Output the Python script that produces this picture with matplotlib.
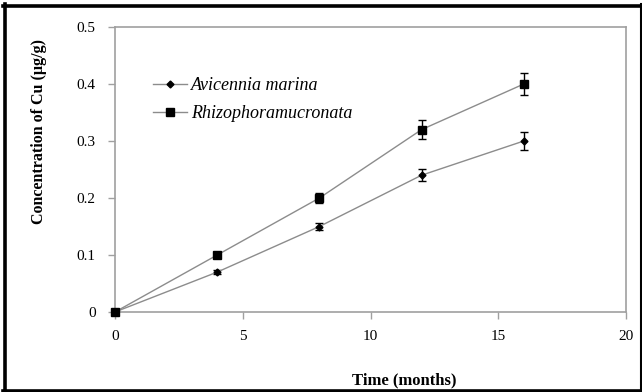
import matplotlib
matplotlib.use("Agg")
import matplotlib.pyplot as plt
from matplotlib.lines import Line2D

months = [0, 4, 8, 12, 16]
avicennia = [0.0, 0.07, 0.15, 0.24, 0.30]
avicennia_err = [0.0, 0.003, 0.006, 0.011, 0.015]
rhizophora = [0.0, 0.10, 0.20, 0.32, 0.40]
rhizophora_err = [0.0, 0.004, 0.009, 0.017, 0.02]
series_names = ["Avicennia marina", "Rhizophoramucronata"]
x_ticks = [0, 5, 10, 15, 20]
y_ticks = [0, 0.1, 0.2, 0.3, 0.4, 0.5]
y_tick_labels = ["0", "0.1", "0.2", "0.3", "0.4", "0.5"]

plt.rcParams['font.family'] = ['Liberation Serif', 'DejaVu Serif']

W, H = 642, 392
fig = plt.figure(figsize=(W / 100, H / 100), dpi=100)
ax = fig.add_axes([115 / W, 1 - 312 / H, (626 - 115) / W, (312 - 27) / H])

gray = '#8c8c8c'
c1 = ax.errorbar(months, avicennia, yerr=avicennia_err, color=gray, lw=1.0,
                 marker='D', ms=3.5, mfc='black', mec='black',
                 ecolor='black', elinewidth=1.0, capsize=3, capthick=1.0, zorder=3)
c2 = ax.errorbar(months, rhizophora, yerr=rhizophora_err, color=gray, lw=1.0,
                 marker='s', ms=6, mfc='black', mec='black',
                 ecolor='black', elinewidth=1.0, capsize=3, capthick=1.0, zorder=3)
for c in (c1, c2):
    c[0].set_clip_on(False)

ax.set_xlim(0, 20)
ax.set_ylim(0, 0.5)
ax.set_xticks(x_ticks)
ax.set_yticks(y_ticks)
ax.set_yticklabels(y_tick_labels)
for s in ax.spines.values():
    s.set_color('#a0a0a0')
    s.set_linewidth(1.2)
ax.tick_params(axis='both', direction='out', length=5, width=1.0, color='#a0a0a0',
               labelsize=11, labelcolor='black')
ax.tick_params(axis='x', pad=8)
ax.tick_params(axis='y', pad=9)

fig.text(404 / W, 1 - 380 / H, "Time (months)", fontsize=12, fontweight='bold',
         ha='center', va='center')
fig.text(39 / W, 1 - 131 / H, "Concentration of Cu (\u00b5g/g)", fontsize=11.5,
         fontweight='bold', rotation=90, ha='center', va='center')

handles = [
    Line2D([], [], color=gray, lw=1.0, marker='D', ms=3.5, mfc='black', mec='black'),
    Line2D([], [], color=gray, lw=1.0, marker='s', ms=6, mfc='black', mec='black'),
]
leg = fig.legend(handles, series_names, loc='upper left',
                 bbox_to_anchor=(153 / W, 1 - 77 / H), bbox_transform=fig.transFigure,
                 frameon=False, prop={'style': 'italic', 'size': 13},
                 handlelength=1.9, handletextpad=0.2, labelspacing=0.6,
                 borderpad=0, borderaxespad=0)

# black frame around the figure
frame_kw = dict(color='black', transform=fig.transFigure, clip_on=False)
fig.add_artist(Line2D([4.5 / W, 4.5 / W], [0, 1 - 4 / H], lw=2.6, **frame_kw))
fig.add_artist(Line2D([3 / W, 1], [1 - 5.5 / H, 1 - 5.5 / H], lw=2.6, **frame_kw))
fig.add_artist(Line2D([3 / W, 1], [1.5 / H, 1.5 / H], lw=2.6, **frame_kw))
fig.add_artist(Line2D([641 / W, 641 / W], [0, 1 - 4 / H], lw=1.5, **frame_kw))

fig.savefig("out.png", dpi=100)
